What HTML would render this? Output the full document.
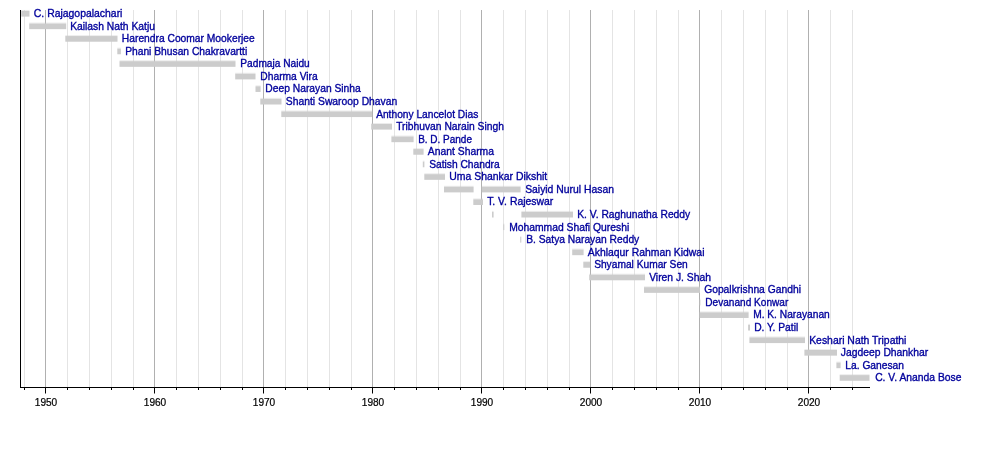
<!DOCTYPE html><html><head><meta charset="utf-8"><title>Timeline</title><style>html,body{margin:0;padding:0;background:#fff}svg{display:block}text{font-family:"Liberation Sans",sans-serif}</style></head><body>
<svg width="1000" height="457" viewBox="0 0 1000 457">
<rect width="1000" height="457" fill="#fff"/>
<line x1="24.50" y1="10" x2="24.50" y2="387" stroke="#e4e4e4" stroke-width="1"/>
<line x1="45.50" y1="10" x2="45.50" y2="387" stroke="#b0b0b0" stroke-width="1"/>
<line x1="67.50" y1="10" x2="67.50" y2="387" stroke="#e4e4e4" stroke-width="1"/>
<line x1="89.50" y1="10" x2="89.50" y2="387" stroke="#e4e4e4" stroke-width="1"/>
<line x1="111.50" y1="10" x2="111.50" y2="387" stroke="#e4e4e4" stroke-width="1"/>
<line x1="133.50" y1="10" x2="133.50" y2="387" stroke="#e4e4e4" stroke-width="1"/>
<line x1="154.50" y1="10" x2="154.50" y2="387" stroke="#b0b0b0" stroke-width="1"/>
<line x1="176.50" y1="10" x2="176.50" y2="387" stroke="#e4e4e4" stroke-width="1"/>
<line x1="198.50" y1="10" x2="198.50" y2="387" stroke="#e4e4e4" stroke-width="1"/>
<line x1="220.50" y1="10" x2="220.50" y2="387" stroke="#e4e4e4" stroke-width="1"/>
<line x1="242.50" y1="10" x2="242.50" y2="387" stroke="#e4e4e4" stroke-width="1"/>
<line x1="263.50" y1="10" x2="263.50" y2="387" stroke="#b0b0b0" stroke-width="1"/>
<line x1="285.50" y1="10" x2="285.50" y2="387" stroke="#e4e4e4" stroke-width="1"/>
<line x1="307.50" y1="10" x2="307.50" y2="387" stroke="#e4e4e4" stroke-width="1"/>
<line x1="329.50" y1="10" x2="329.50" y2="387" stroke="#e4e4e4" stroke-width="1"/>
<line x1="351.50" y1="10" x2="351.50" y2="387" stroke="#e4e4e4" stroke-width="1"/>
<line x1="372.50" y1="10" x2="372.50" y2="387" stroke="#b0b0b0" stroke-width="1"/>
<line x1="394.50" y1="10" x2="394.50" y2="387" stroke="#e4e4e4" stroke-width="1"/>
<line x1="416.50" y1="10" x2="416.50" y2="387" stroke="#e4e4e4" stroke-width="1"/>
<line x1="438.50" y1="10" x2="438.50" y2="387" stroke="#e4e4e4" stroke-width="1"/>
<line x1="460.50" y1="10" x2="460.50" y2="387" stroke="#e4e4e4" stroke-width="1"/>
<line x1="481.50" y1="10" x2="481.50" y2="387" stroke="#b0b0b0" stroke-width="1"/>
<line x1="503.50" y1="10" x2="503.50" y2="387" stroke="#e4e4e4" stroke-width="1"/>
<line x1="525.50" y1="10" x2="525.50" y2="387" stroke="#e4e4e4" stroke-width="1"/>
<line x1="547.50" y1="10" x2="547.50" y2="387" stroke="#e4e4e4" stroke-width="1"/>
<line x1="569.50" y1="10" x2="569.50" y2="387" stroke="#e4e4e4" stroke-width="1"/>
<line x1="590.50" y1="10" x2="590.50" y2="387" stroke="#b0b0b0" stroke-width="1"/>
<line x1="612.50" y1="10" x2="612.50" y2="387" stroke="#e4e4e4" stroke-width="1"/>
<line x1="634.50" y1="10" x2="634.50" y2="387" stroke="#e4e4e4" stroke-width="1"/>
<line x1="656.50" y1="10" x2="656.50" y2="387" stroke="#e4e4e4" stroke-width="1"/>
<line x1="678.50" y1="10" x2="678.50" y2="387" stroke="#e4e4e4" stroke-width="1"/>
<line x1="699.50" y1="10" x2="699.50" y2="387" stroke="#b0b0b0" stroke-width="1"/>
<line x1="721.50" y1="10" x2="721.50" y2="387" stroke="#e4e4e4" stroke-width="1"/>
<line x1="743.50" y1="10" x2="743.50" y2="387" stroke="#e4e4e4" stroke-width="1"/>
<line x1="765.50" y1="10" x2="765.50" y2="387" stroke="#e4e4e4" stroke-width="1"/>
<line x1="787.50" y1="10" x2="787.50" y2="387" stroke="#e4e4e4" stroke-width="1"/>
<line x1="808.50" y1="10" x2="808.50" y2="387" stroke="#b0b0b0" stroke-width="1"/>
<line x1="830.50" y1="10" x2="830.50" y2="387" stroke="#e4e4e4" stroke-width="1"/>
<line x1="852.50" y1="10" x2="852.50" y2="387" stroke="#e4e4e4" stroke-width="1"/>
<defs><filter id="bf" x="-2%" y="-2%" width="104%" height="104%"><feGaussianBlur stdDeviation="0.45"/></filter></defs><g filter="url(#bf)">
<rect x="21.20" y="10.95" width="8.30" height="5.65" fill="#cccccc"/><rect x="21.20" y="9.95" width="8.30" height="1.1" fill="#cccccc" opacity="0.35"/>
<rect x="29.20" y="23.51" width="37.00" height="5.65" fill="#cccccc"/><rect x="29.20" y="22.51" width="37.00" height="1.1" fill="#cccccc" opacity="0.35"/>
<rect x="65.30" y="36.06" width="52.20" height="5.65" fill="#cccccc"/><rect x="65.30" y="35.06" width="52.20" height="1.1" fill="#cccccc" opacity="0.35"/>
<rect x="117.30" y="48.62" width="3.60" height="5.65" fill="#cccccc"/><rect x="117.30" y="47.62" width="3.60" height="1.1" fill="#cccccc" opacity="0.35"/>
<rect x="119.50" y="61.18" width="116.00" height="5.65" fill="#cccccc"/><rect x="119.50" y="60.18" width="116.00" height="1.1" fill="#cccccc" opacity="0.35"/>
<rect x="235.20" y="73.74" width="20.30" height="5.65" fill="#cccccc"/><rect x="235.20" y="72.74" width="20.30" height="1.1" fill="#cccccc" opacity="0.35"/>
<rect x="255.50" y="86.29" width="5.10" height="5.65" fill="#cccccc"/><rect x="255.50" y="85.29" width="5.10" height="1.1" fill="#cccccc" opacity="0.35"/>
<rect x="260.30" y="98.85" width="21.20" height="5.65" fill="#cccccc"/><rect x="260.30" y="97.85" width="21.20" height="1.1" fill="#cccccc" opacity="0.35"/>
<rect x="281.30" y="111.41" width="90.70" height="5.65" fill="#cccccc"/><rect x="281.30" y="110.41" width="90.70" height="1.1" fill="#cccccc" opacity="0.35"/>
<rect x="371.20" y="123.96" width="20.80" height="5.65" fill="#cccccc"/><rect x="371.20" y="122.96" width="20.80" height="1.1" fill="#cccccc" opacity="0.35"/>
<rect x="391.40" y="136.52" width="22.20" height="5.65" fill="#cccccc"/><rect x="391.40" y="135.52" width="22.20" height="1.1" fill="#cccccc" opacity="0.35"/>
<rect x="413.30" y="149.08" width="10.30" height="5.65" fill="#cccccc"/><rect x="413.30" y="148.08" width="10.30" height="1.1" fill="#cccccc" opacity="0.35"/>
<rect x="422.80" y="161.63" width="1.60" height="5.65" fill="#cccccc"/><rect x="422.80" y="160.63" width="1.60" height="1.1" fill="#cccccc" opacity="0.35"/>
<rect x="424.30" y="174.19" width="20.70" height="5.65" fill="#cccccc"/><rect x="424.30" y="173.19" width="20.70" height="1.1" fill="#cccccc" opacity="0.35"/>
<rect x="444.00" y="186.75" width="29.60" height="5.65" fill="#cccccc"/><rect x="444.00" y="185.75" width="29.60" height="1.1" fill="#cccccc" opacity="0.35"/>
<rect x="481.80" y="186.75" width="38.80" height="5.65" fill="#cccccc"/><rect x="481.80" y="185.75" width="38.80" height="1.1" fill="#cccccc" opacity="0.35"/>
<rect x="473.30" y="199.31" width="9.70" height="5.65" fill="#cccccc"/><rect x="473.30" y="198.31" width="9.70" height="1.1" fill="#cccccc" opacity="0.35"/>
<rect x="492.00" y="211.86" width="1.60" height="5.65" fill="#cccccc"/><rect x="492.00" y="210.86" width="1.60" height="1.1" fill="#cccccc" opacity="0.35"/>
<rect x="521.40" y="211.86" width="51.60" height="5.65" fill="#cccccc"/><rect x="521.40" y="210.86" width="51.60" height="1.1" fill="#cccccc" opacity="0.35"/>
<rect x="503.20" y="224.42" width="1.10" height="5.65" fill="#cccccc"/><rect x="503.20" y="223.42" width="1.10" height="1.1" fill="#cccccc" opacity="0.35"/>
<rect x="520.20" y="236.98" width="1.10" height="5.65" fill="#cccccc"/><rect x="520.20" y="235.98" width="1.10" height="1.1" fill="#cccccc" opacity="0.35"/>
<rect x="572.20" y="249.53" width="11.40" height="5.65" fill="#cccccc"/><rect x="572.20" y="248.53" width="11.40" height="1.1" fill="#cccccc" opacity="0.35"/>
<rect x="583.30" y="262.09" width="6.70" height="5.65" fill="#cccccc"/><rect x="583.30" y="261.09" width="6.70" height="1.1" fill="#cccccc" opacity="0.35"/>
<rect x="589.20" y="274.65" width="55.80" height="5.65" fill="#cccccc"/><rect x="589.20" y="273.65" width="55.80" height="1.1" fill="#cccccc" opacity="0.35"/>
<rect x="644.00" y="287.20" width="56.00" height="5.65" fill="#cccccc"/><rect x="644.00" y="286.20" width="56.00" height="1.1" fill="#cccccc" opacity="0.35"/>
<rect x="699.70" y="299.76" width="0.70" height="5.65" fill="#cccccc"/><rect x="699.70" y="298.76" width="0.70" height="1.1" fill="#cccccc" opacity="0.35"/>
<rect x="699.70" y="312.32" width="48.90" height="5.65" fill="#cccccc"/><rect x="699.70" y="311.32" width="48.90" height="1.1" fill="#cccccc" opacity="0.35"/>
<rect x="748.10" y="324.88" width="1.90" height="5.65" fill="#cccccc"/><rect x="748.10" y="323.88" width="1.90" height="1.1" fill="#cccccc" opacity="0.35"/>
<rect x="749.40" y="337.43" width="55.60" height="5.65" fill="#cccccc"/><rect x="749.40" y="336.43" width="55.60" height="1.1" fill="#cccccc" opacity="0.35"/>
<rect x="804.40" y="349.99" width="32.60" height="5.65" fill="#cccccc"/><rect x="804.40" y="348.99" width="32.60" height="1.1" fill="#cccccc" opacity="0.35"/>
<rect x="836.40" y="362.55" width="4.20" height="5.65" fill="#cccccc"/><rect x="836.40" y="361.55" width="4.20" height="1.1" fill="#cccccc" opacity="0.35"/>
<rect x="839.70" y="375.10" width="29.80" height="5.65" fill="#cccccc"/><rect x="839.70" y="374.10" width="29.80" height="1.1" fill="#cccccc" opacity="0.35"/>
</g>
<line x1="20.5" y1="10" x2="20.5" y2="388" stroke="#000" stroke-width="1"/>
<line x1="20" y1="387.5" x2="870" y2="387.5" stroke="#000" stroke-width="1"/>
<line x1="24.50" y1="388" x2="24.50" y2="390" stroke="#000" stroke-width="1"/>
<line x1="45.50" y1="388" x2="45.50" y2="393.5" stroke="#000" stroke-width="1"/>
<line x1="67.50" y1="388" x2="67.50" y2="390" stroke="#000" stroke-width="1"/>
<line x1="89.50" y1="388" x2="89.50" y2="390" stroke="#000" stroke-width="1"/>
<line x1="111.50" y1="388" x2="111.50" y2="390" stroke="#000" stroke-width="1"/>
<line x1="133.50" y1="388" x2="133.50" y2="390" stroke="#000" stroke-width="1"/>
<line x1="154.50" y1="388" x2="154.50" y2="393.5" stroke="#000" stroke-width="1"/>
<line x1="176.50" y1="388" x2="176.50" y2="390" stroke="#000" stroke-width="1"/>
<line x1="198.50" y1="388" x2="198.50" y2="390" stroke="#000" stroke-width="1"/>
<line x1="220.50" y1="388" x2="220.50" y2="390" stroke="#000" stroke-width="1"/>
<line x1="242.50" y1="388" x2="242.50" y2="390" stroke="#000" stroke-width="1"/>
<line x1="263.50" y1="388" x2="263.50" y2="393.5" stroke="#000" stroke-width="1"/>
<line x1="285.50" y1="388" x2="285.50" y2="390" stroke="#000" stroke-width="1"/>
<line x1="307.50" y1="388" x2="307.50" y2="390" stroke="#000" stroke-width="1"/>
<line x1="329.50" y1="388" x2="329.50" y2="390" stroke="#000" stroke-width="1"/>
<line x1="351.50" y1="388" x2="351.50" y2="390" stroke="#000" stroke-width="1"/>
<line x1="372.50" y1="388" x2="372.50" y2="393.5" stroke="#000" stroke-width="1"/>
<line x1="394.50" y1="388" x2="394.50" y2="390" stroke="#000" stroke-width="1"/>
<line x1="416.50" y1="388" x2="416.50" y2="390" stroke="#000" stroke-width="1"/>
<line x1="438.50" y1="388" x2="438.50" y2="390" stroke="#000" stroke-width="1"/>
<line x1="460.50" y1="388" x2="460.50" y2="390" stroke="#000" stroke-width="1"/>
<line x1="481.50" y1="388" x2="481.50" y2="393.5" stroke="#000" stroke-width="1"/>
<line x1="503.50" y1="388" x2="503.50" y2="390" stroke="#000" stroke-width="1"/>
<line x1="525.50" y1="388" x2="525.50" y2="390" stroke="#000" stroke-width="1"/>
<line x1="547.50" y1="388" x2="547.50" y2="390" stroke="#000" stroke-width="1"/>
<line x1="569.50" y1="388" x2="569.50" y2="390" stroke="#000" stroke-width="1"/>
<line x1="590.50" y1="388" x2="590.50" y2="393.5" stroke="#000" stroke-width="1"/>
<line x1="612.50" y1="388" x2="612.50" y2="390" stroke="#000" stroke-width="1"/>
<line x1="634.50" y1="388" x2="634.50" y2="390" stroke="#000" stroke-width="1"/>
<line x1="656.50" y1="388" x2="656.50" y2="390" stroke="#000" stroke-width="1"/>
<line x1="678.50" y1="388" x2="678.50" y2="390" stroke="#000" stroke-width="1"/>
<line x1="699.50" y1="388" x2="699.50" y2="393.5" stroke="#000" stroke-width="1"/>
<line x1="721.50" y1="388" x2="721.50" y2="390" stroke="#000" stroke-width="1"/>
<line x1="743.50" y1="388" x2="743.50" y2="390" stroke="#000" stroke-width="1"/>
<line x1="765.50" y1="388" x2="765.50" y2="390" stroke="#000" stroke-width="1"/>
<line x1="787.50" y1="388" x2="787.50" y2="390" stroke="#000" stroke-width="1"/>
<line x1="808.50" y1="388" x2="808.50" y2="393.5" stroke="#000" stroke-width="1"/>
<line x1="830.50" y1="388" x2="830.50" y2="390" stroke="#000" stroke-width="1"/>
<line x1="852.50" y1="388" x2="852.50" y2="390" stroke="#000" stroke-width="1"/>
<defs><filter id="sf" x="-2%" y="-2%" width="104%" height="104%"><feGaussianBlur stdDeviation="0.35"/></filter></defs><g filter="url(#sf)">
<text id="l1" x="33.85" y="17.05" font-size="11.1" textLength="88.60" lengthAdjust="spacingAndGlyphs" fill="#06069c" stroke="#06069c" stroke-width="0.36">C. Rajagopalachari</text>
<text id="l2" x="70.15" y="29.61" font-size="11.1" textLength="84.80" lengthAdjust="spacingAndGlyphs" fill="#06069c" stroke="#06069c" stroke-width="0.36">Kailash Nath Katju</text>
<text id="l3" x="121.85" y="42.16" font-size="11.1" textLength="132.90" lengthAdjust="spacingAndGlyphs" fill="#06069c" stroke="#06069c" stroke-width="0.36">Harendra Coomar Mookerjee</text>
<text id="l4" x="125.15" y="54.72" font-size="11.1" textLength="122.10" lengthAdjust="spacingAndGlyphs" fill="#06069c" stroke="#06069c" stroke-width="0.36">Phani Bhusan Chakravartti</text>
<text id="l5" x="240.35" y="67.28" font-size="11.1" textLength="69.40" lengthAdjust="spacingAndGlyphs" fill="#06069c" stroke="#06069c" stroke-width="0.36">Padmaja Naidu</text>
<text id="l6" x="260.35" y="79.84" font-size="11.1" textLength="57.40" lengthAdjust="spacingAndGlyphs" fill="#06069c" stroke="#06069c" stroke-width="0.36">Dharma Vira</text>
<text id="l7" x="265.35" y="92.39" font-size="11.1" textLength="95.40" lengthAdjust="spacingAndGlyphs" fill="#06069c" stroke="#06069c" stroke-width="0.36">Deep Narayan Sinha</text>
<text id="l8" x="285.85" y="104.95" font-size="11.1" textLength="111.40" lengthAdjust="spacingAndGlyphs" fill="#06069c" stroke="#06069c" stroke-width="0.36">Shanti Swaroop Dhavan</text>
<text id="l9" x="376.15" y="117.51" font-size="11.1" textLength="102.10" lengthAdjust="spacingAndGlyphs" fill="#06069c" stroke="#06069c" stroke-width="0.36">Anthony Lancelot Dias</text>
<text id="l10" x="396.15" y="130.06" font-size="11.1" textLength="107.80" lengthAdjust="spacingAndGlyphs" fill="#06069c" stroke="#06069c" stroke-width="0.36">Tribhuvan Narain Singh</text>
<text id="l11" x="418.15" y="142.62" font-size="11.1" textLength="53.80" lengthAdjust="spacingAndGlyphs" fill="#06069c" stroke="#06069c" stroke-width="0.36">B. D. Pande</text>
<text id="l12" x="427.85" y="155.18" font-size="11.1" textLength="66.10" lengthAdjust="spacingAndGlyphs" fill="#06069c" stroke="#06069c" stroke-width="0.36">Anant Sharma</text>
<text id="l13" x="429.15" y="167.73" font-size="11.1" textLength="70.60" lengthAdjust="spacingAndGlyphs" fill="#06069c" stroke="#06069c" stroke-width="0.36">Satish Chandra</text>
<text id="l14" x="449.35" y="180.29" font-size="11.1" textLength="97.90" lengthAdjust="spacingAndGlyphs" fill="#06069c" stroke="#06069c" stroke-width="0.36">Uma Shankar Dikshit</text>
<text id="l15" x="525.15" y="192.85" font-size="11.1" textLength="88.80" lengthAdjust="spacingAndGlyphs" fill="#06069c" stroke="#06069c" stroke-width="0.36">Saiyid Nurul Hasan</text>
<text id="l16" x="487.15" y="205.41" font-size="11.1" textLength="66.10" lengthAdjust="spacingAndGlyphs" fill="#06069c" stroke="#06069c" stroke-width="0.36">T. V. Rajeswar</text>
<text id="l17" x="577.15" y="217.96" font-size="11.1" textLength="113.10" lengthAdjust="spacingAndGlyphs" fill="#06069c" stroke="#06069c" stroke-width="0.36">K. V. Raghunatha Reddy</text>
<text id="l18" x="509.15" y="230.52" font-size="11.1" textLength="120.10" lengthAdjust="spacingAndGlyphs" fill="#06069c" stroke="#06069c" stroke-width="0.36">Mohammad Shafi Qureshi</text>
<text id="l19" x="526.15" y="243.08" font-size="11.1" textLength="113.10" lengthAdjust="spacingAndGlyphs" fill="#06069c" stroke="#06069c" stroke-width="0.36">B. Satya Narayan Reddy</text>
<text id="l20" x="587.85" y="255.63" font-size="11.1" textLength="116.60" lengthAdjust="spacingAndGlyphs" fill="#06069c" stroke="#06069c" stroke-width="0.36">Akhlaqur Rahman Kidwai</text>
<text id="l21" x="594.15" y="268.19" font-size="11.1" textLength="93.60" lengthAdjust="spacingAndGlyphs" fill="#06069c" stroke="#06069c" stroke-width="0.36">Shyamal Kumar Sen</text>
<text id="l22" x="649.15" y="280.75" font-size="11.1" textLength="61.80" lengthAdjust="spacingAndGlyphs" fill="#06069c" stroke="#06069c" stroke-width="0.36">Viren J. Shah</text>
<text id="l23" x="704.15" y="293.30" font-size="11.1" textLength="96.80" lengthAdjust="spacingAndGlyphs" fill="#06069c" stroke="#06069c" stroke-width="0.36">Gopalkrishna Gandhi</text>
<text id="l24" x="705.35" y="305.86" font-size="11.1" textLength="82.90" lengthAdjust="spacingAndGlyphs" fill="#06069c" stroke="#06069c" stroke-width="0.36">Devanand Konwar</text>
<text id="l25" x="753.15" y="318.42" font-size="11.1" textLength="76.60" lengthAdjust="spacingAndGlyphs" fill="#06069c" stroke="#06069c" stroke-width="0.36">M. K. Narayanan</text>
<text id="l26" x="754.15" y="330.98" font-size="11.1" textLength="44.10" lengthAdjust="spacingAndGlyphs" fill="#06069c" stroke="#06069c" stroke-width="0.36">D. Y. Patil</text>
<text id="l27" x="809.15" y="343.53" font-size="11.1" textLength="97.30" lengthAdjust="spacingAndGlyphs" fill="#06069c" stroke="#06069c" stroke-width="0.36">Keshari Nath Tripathi</text>
<text id="l28" x="840.85" y="356.09" font-size="11.1" textLength="87.40" lengthAdjust="spacingAndGlyphs" fill="#06069c" stroke="#06069c" stroke-width="0.36">Jagdeep Dhankhar</text>
<text id="l29" x="845.35" y="368.65" font-size="11.1" textLength="58.60" lengthAdjust="spacingAndGlyphs" fill="#06069c" stroke="#06069c" stroke-width="0.36">La. Ganesan</text>
<text id="l30" x="875.15" y="381.20" font-size="11.1" textLength="86.30" lengthAdjust="spacingAndGlyphs" fill="#06069c" stroke="#06069c" stroke-width="0.36">C. V. Ananda Bose</text>
<text x="46.00" y="406" font-size="10.1" text-anchor="middle" fill="#000" stroke="#000" stroke-width="0.2">1950</text>
<text x="155.00" y="406" font-size="10.1" text-anchor="middle" fill="#000" stroke="#000" stroke-width="0.2">1960</text>
<text x="264.00" y="406" font-size="10.1" text-anchor="middle" fill="#000" stroke="#000" stroke-width="0.2">1970</text>
<text x="373.00" y="406" font-size="10.1" text-anchor="middle" fill="#000" stroke="#000" stroke-width="0.2">1980</text>
<text x="482.00" y="406" font-size="10.1" text-anchor="middle" fill="#000" stroke="#000" stroke-width="0.2">1990</text>
<text x="591.00" y="406" font-size="10.1" text-anchor="middle" fill="#000" stroke="#000" stroke-width="0.2">2000</text>
<text x="700.00" y="406" font-size="10.1" text-anchor="middle" fill="#000" stroke="#000" stroke-width="0.2">2010</text>
<text x="809.00" y="406" font-size="10.1" text-anchor="middle" fill="#000" stroke="#000" stroke-width="0.2">2020</text>
</g>
</svg></body></html>
